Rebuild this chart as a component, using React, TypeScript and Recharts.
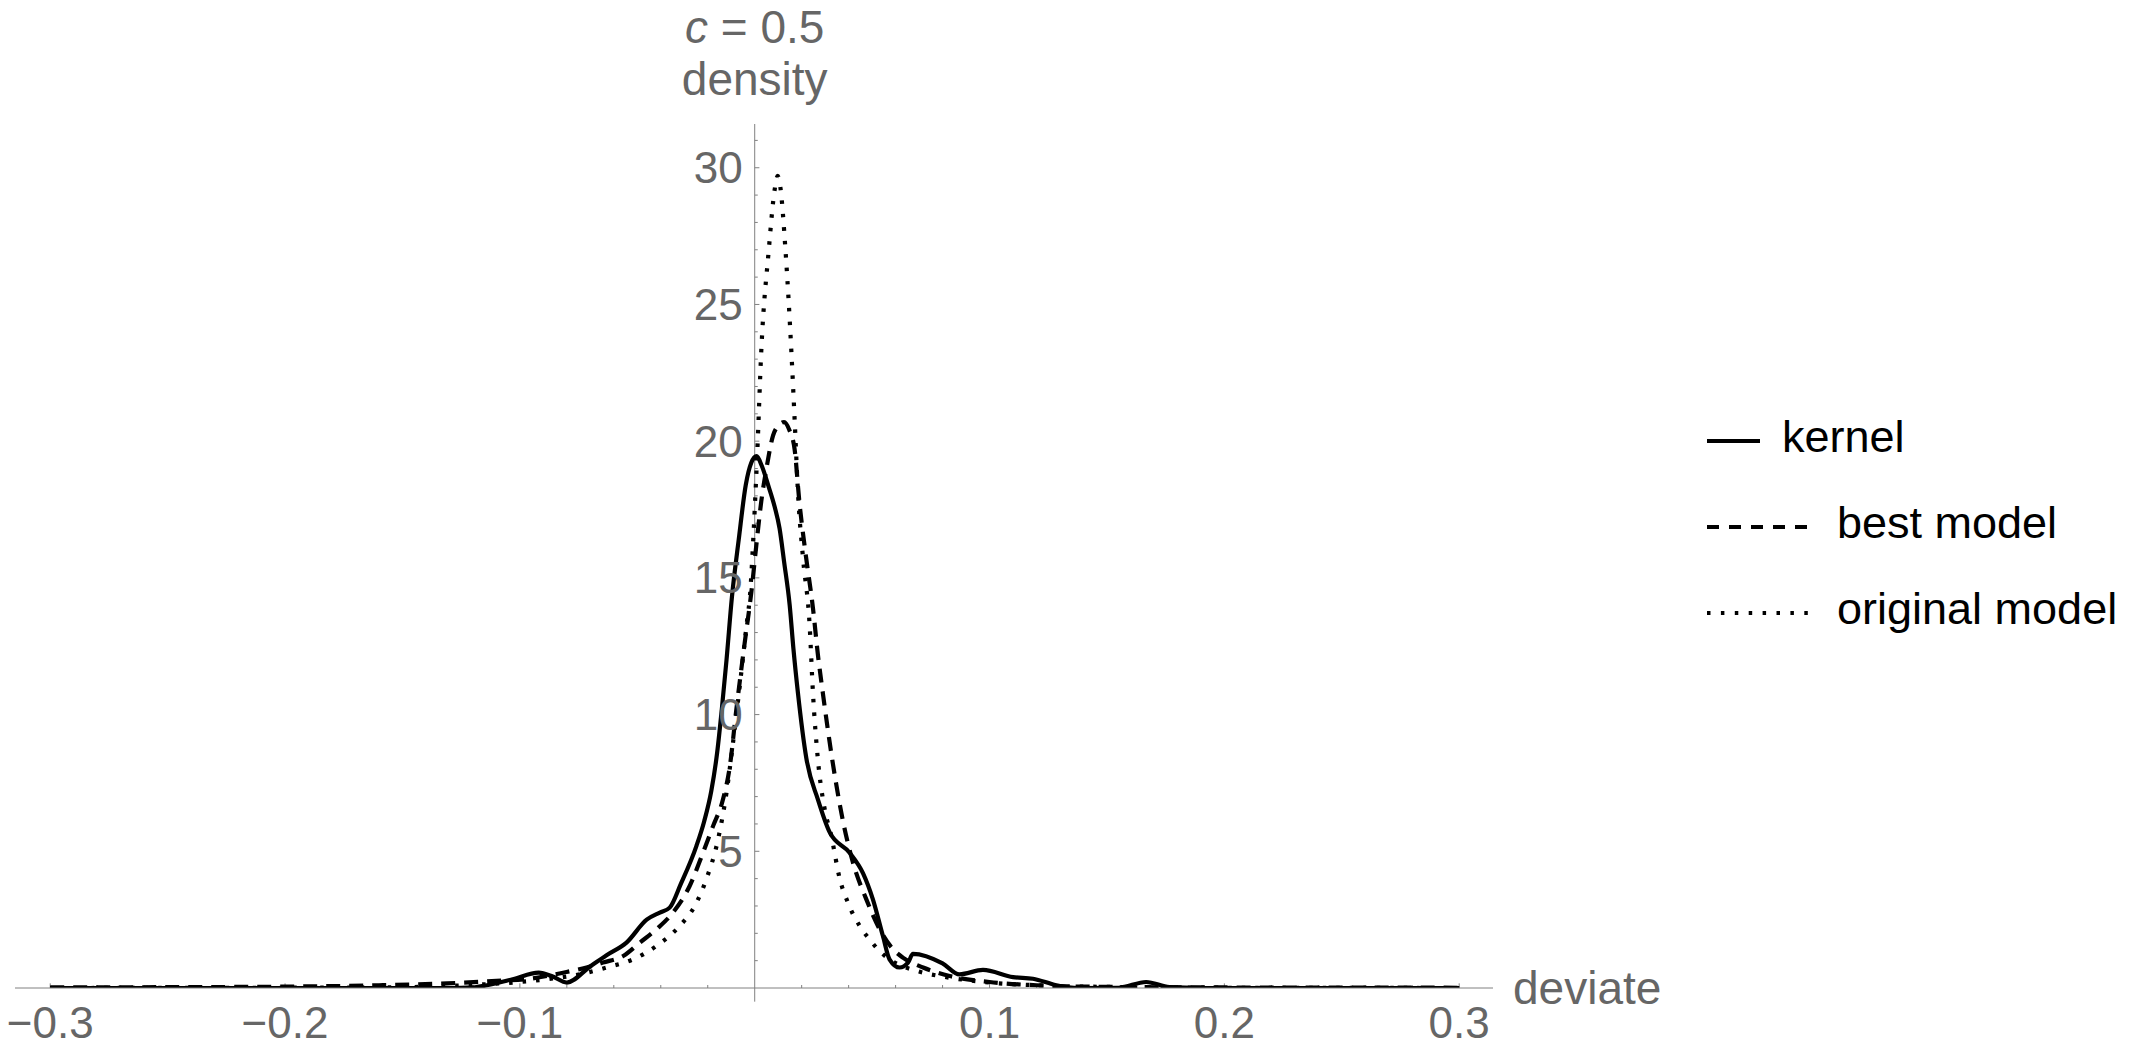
import { Legend, Line, LineChart, ReferenceLine, XAxis, YAxis } from 'recharts';

// Kernel density vs. fitted models of the deviate, c = 0.5.

const WIDTH = 2138;
const HEIGHT = 1050;
const FONT = '"Liberation Sans", Arial, sans-serif';
const LABEL_GRAY = '#666666';
const AXIS_GRAY = '#808080';

// ---------------------------------------------------------------------------
// Data
// ---------------------------------------------------------------------------
const kernelX = [
  -0.3, -0.2, -0.13, -0.12, -0.114, -0.103, -0.092, -0.086, -0.08, -0.0702, -0.0631,
  -0.0546, -0.046, -0.0404, -0.0362, -0.0315, -0.0248, -0.0215, -0.0185, -0.016, -0.014,
  -0.012, -0.0097, -0.0068, -0.0038, -0.0015, 0.0008, 0.003, 0.0057, 0.0085, 0.0106, 0.0125,
  0.0149, 0.0165, 0.0184, 0.022, 0.0269, 0.0319, 0.0404, 0.0461, 0.0503, 0.0546, 0.0574,
  0.0617, 0.0653, 0.0674, 0.08, 0.0872, 0.0972, 0.11, 0.1185, 0.1284, 0.138, 0.155,
  0.1667, 0.1766, 0.19, 0.3,
];
const kernelY = [
  0, 0, 0, 0.02, 0.1, 0.32, 0.56, 0.42, 0.2, 0.78, 1.2,
  1.66, 2.5, 2.76, 2.94, 3.8, 5.2, 6.1, 7.2, 8.6, 10.2,
  12.0, 14.3, 16.4, 18.4, 19.2, 19.45, 19.1, 18.4, 17.6, 16.8, 15.6,
  14.0, 12.4, 10.8, 8.4, 6.9, 5.7, 4.95, 4.2, 3.25, 1.9, 1.05,
  0.75, 0.93, 1.25, 0.9, 0.5, 0.66, 0.4, 0.34, 0.1, 0, 0.01,
  0.22, 0.03, 0, 0,
];

const bestX = [
  -0.3, -0.25, -0.2, -0.16, -0.131, -0.11, -0.0957, -0.0816, -0.0716, -0.0646, -0.056,
  -0.0489, -0.0418, -0.0348, -0.0277, -0.022, -0.0177, -0.0135, -0.0106, -0.0078, -0.0043,
  -0.0014, 0.0007, 0.0028, 0.005, 0.0078, 0.0105, 0.0125, 0.0148, 0.017, 0.019, 0.0218,
  0.0248, 0.0269, 0.029, 0.0333, 0.0376, 0.0418, 0.0475, 0.0532, 0.0589, 0.0631, 0.0717,
  0.083, 0.1, 0.12, 0.15, 0.2, 0.3,
];
const bestY = [
  0.02, 0.03, 0.05, 0.1, 0.17, 0.26, 0.34, 0.56, 0.75, 0.93, 1.17,
  1.66, 2.15, 2.76, 3.73, 4.95, 5.93, 6.9, 8.1, 10.2, 12.6,
  14.5, 16.2, 17.8, 19.0, 20.2, 20.6, 20.7, 20.4, 19.7, 17.8, 15.8,
  13.9, 12.2, 10.8, 8.2, 6.1, 4.6, 3.25, 2.15, 1.42, 1.11, 0.75,
  0.44, 0.22, 0.1, 0.04, 0.02, 0.01,
];

const originalX = [
  -0.3, -0.2, -0.15, -0.124, -0.103, -0.0887, -0.0745, -0.0631, -0.0517, -0.0418, -0.0326,
  -0.0248, -0.0206, -0.0156, -0.012, -0.0092, -0.0057, -0.0035, -0.0018, -0.0009, 0.0011,
  0.0028, 0.006, 0.0085, 0.0098, 0.0109, 0.0131, 0.0156, 0.017, 0.0185, 0.0206, 0.0234,
  0.0248, 0.0269, 0.0298, 0.0326, 0.0362, 0.0397, 0.0447, 0.0489, 0.0532, 0.0574, 0.07,
  0.08, 0.1, 0.12, 0.15, 0.2, 0.3,
];
const originalY = [
  0, 0.01, 0.03, 0.1, 0.2, 0.32, 0.5, 0.75, 1.05, 1.54, 2.21,
  3.12, 3.98, 5.44, 7.15, 9.0, 11.55, 13.25, 14.6, 15.95, 19.6,
  23.3, 27.0, 29.2, 29.7, 29.3, 27.0, 23.3, 20.8, 18.0, 15.7, 13.25,
  10.8, 8.37, 6.54, 5.57, 4.0, 3.12, 2.27, 1.78, 1.35, 1.05, 0.6,
  0.42, 0.2, 0.1, 0.04, 0.01, 0,
];

// Axis ticks
const xLabelTicks = [-0.3, -0.2, -0.1, 0.1, 0.2, 0.3];
const yLabelTicks = [5, 10, 15, 20, 25, 30];
const xMinorTicks: number[] = [];
for (let i = -15; i <= 15; i++) if (i % 5 !== 0) xMinorTicks.push(i / 50);
const yMinorTicks: number[] = [];
for (let i = 1; i <= 31; i++) if (i % 5 !== 0) yMinorTicks.push(i);

const X_DOMAIN: [number, number] = [-0.315, 0.3144];
const Y_DOMAIN: [number, number] = [0, 31.6];

const zip = (xs: number[], ys: number[]) => xs.map((x, i) => ({ x, y: ys[i] }));

const SERIES = [
  { name: 'kernel', data: zip(kernelX, kernelY), dash: undefined, plotDash: undefined, legendLen: 53, gap: 22 },
  { name: 'best model', data: zip(bestX, bestY), dash: '12 10', plotDash: '14 9', legendLen: 101, gap: 29 },
  { name: 'original model', data: zip(originalX, originalY), dash: '3.5 10.4', plotDash: '3.5 10', legendLen: 101, gap: 29 },
];

const fmtX = (v: number) => (v < 0 ? `\u2212${Math.abs(v)}` : String(v));

function YTitle(props: any) {
  const vb = props.viewBox ?? {};
  const x = vb.x ?? 0;
  const top = vb.y ?? 0;
  return (
    <g fill={LABEL_GRAY} fontFamily={FONT} fontSize={46}>
      <text x={x} y={top - 81} textAnchor="middle">
        <tspan fontStyle="italic">c</tspan>
        {' = 0.5'}
      </text>
      <text x={x} y={top - 29} textAnchor="middle">
        density
      </text>
    </g>
  );
}

// Legend rows follow the series order (Recharts would sort them by name).
function LegendBox(props: any) {
  const names = new Set((props.payload ?? []).map((p: any) => p.value));
  const rows = SERIES.filter((s) => names.has(s.name));
  return (
    <svg width={431} height={240} style={{ display: 'block' }}>
      {rows.map((s, i) => {
        const rowY = 36 + i * 86;
        return (
          <g key={s.name}>
            <line x1={0} x2={s.legendLen} y1={rowY} y2={rowY} stroke="#000" strokeWidth={4} strokeDasharray={s.dash} />
            <text x={s.legendLen + s.gap} y={rowY + 11} fontFamily={FONT} fontSize={45} fill="#000">
              {s.name}
            </text>
          </g>
        );
      })}
    </svg>
  );
}

export default function App() {
  return (
    <div style={{ position: 'absolute', left: 0, top: 0, width: WIDTH, height: HEIGHT, background: '#fff' }}>
      <LineChart width={WIDTH} height={HEIGHT} margin={{ top: 124, right: 645, bottom: 12, left: 15 }}>
        <XAxis
          dataKey="x"
          type="number"
          domain={X_DOMAIN}
          allowDataOverflow
          ticks={xLabelTicks}
          interval={0}
          tickFormatter={fmtX}
          tickLine={false}
          tickSize={6}
          tickMargin={13}
          height={50}
          axisLine={{ stroke: AXIS_GRAY, strokeWidth: 1 }}
          tick={{ fill: LABEL_GRAY, fontSize: 44, fontFamily: FONT }}
        />
        <YAxis type="number" domain={Y_DOMAIN} allowDataOverflow hide />

        {/* vertical axis through the origin, running a little below zero */}
        <ReferenceLine
          segment={[{ x: 0, y: -0.5 }, { x: 0, y: 0 }]}
          stroke={AXIS_GRAY}
          ifOverflow="visible"
        />
        <ReferenceLine x={0} stroke={AXIS_GRAY} label={YTitle} />
        <ReferenceLine
          y={0}
          stroke="none"
          label={{ value: 'deviate', position: 'right', offset: 20, fill: LABEL_GRAY, fontSize: 46, fontFamily: FONT }}
        />

        {xMinorTicks.map((v) => (
          <ReferenceLine key={`xm${v}`} segment={[{ x: v, y: 0 }, { x: v, y: 0.11 }]} stroke={AXIS_GRAY} />
        ))}
        {xLabelTicks.map((v) => (
          <ReferenceLine key={`xM${v}`} segment={[{ x: v, y: 0 }, { x: v, y: 0.17 }]} stroke={AXIS_GRAY} />
        ))}
        {yMinorTicks.map((v) => (
          <ReferenceLine key={`ym${v}`} segment={[{ x: 0, y: v }, { x: 0.0013, y: v }]} stroke={AXIS_GRAY} />
        ))}
        {yLabelTicks.map((v) => (
          <ReferenceLine
            key={`yM${v}`}
            segment={[{ x: 0, y: v }, { x: 0.002, y: v }]}
            stroke={AXIS_GRAY}
            label={{ value: String(v), position: 'left', offset: 12, fill: LABEL_GRAY, fontSize: 44, fontFamily: FONT }}
          />
        ))}

        {SERIES.map((s) => (
          <Line
            key={s.name}
            name={s.name}
            data={s.data}
            dataKey="y"
            type="monotone"
            stroke="#000"
            strokeWidth={4.2}
            strokeDasharray={s.plotDash}
            strokeLinejoin="round"
            dot={false}
            activeDot={false}
            isAnimationActive={false}
          />
        ))}

        <Legend
          layout="vertical"
          align="center"
          verticalAlign="middle"
          content={LegendBox}
          wrapperStyle={{ left: 1707, top: 405, width: 431, height: 240 }}
        />
      </LineChart>
    </div>
  );
}
